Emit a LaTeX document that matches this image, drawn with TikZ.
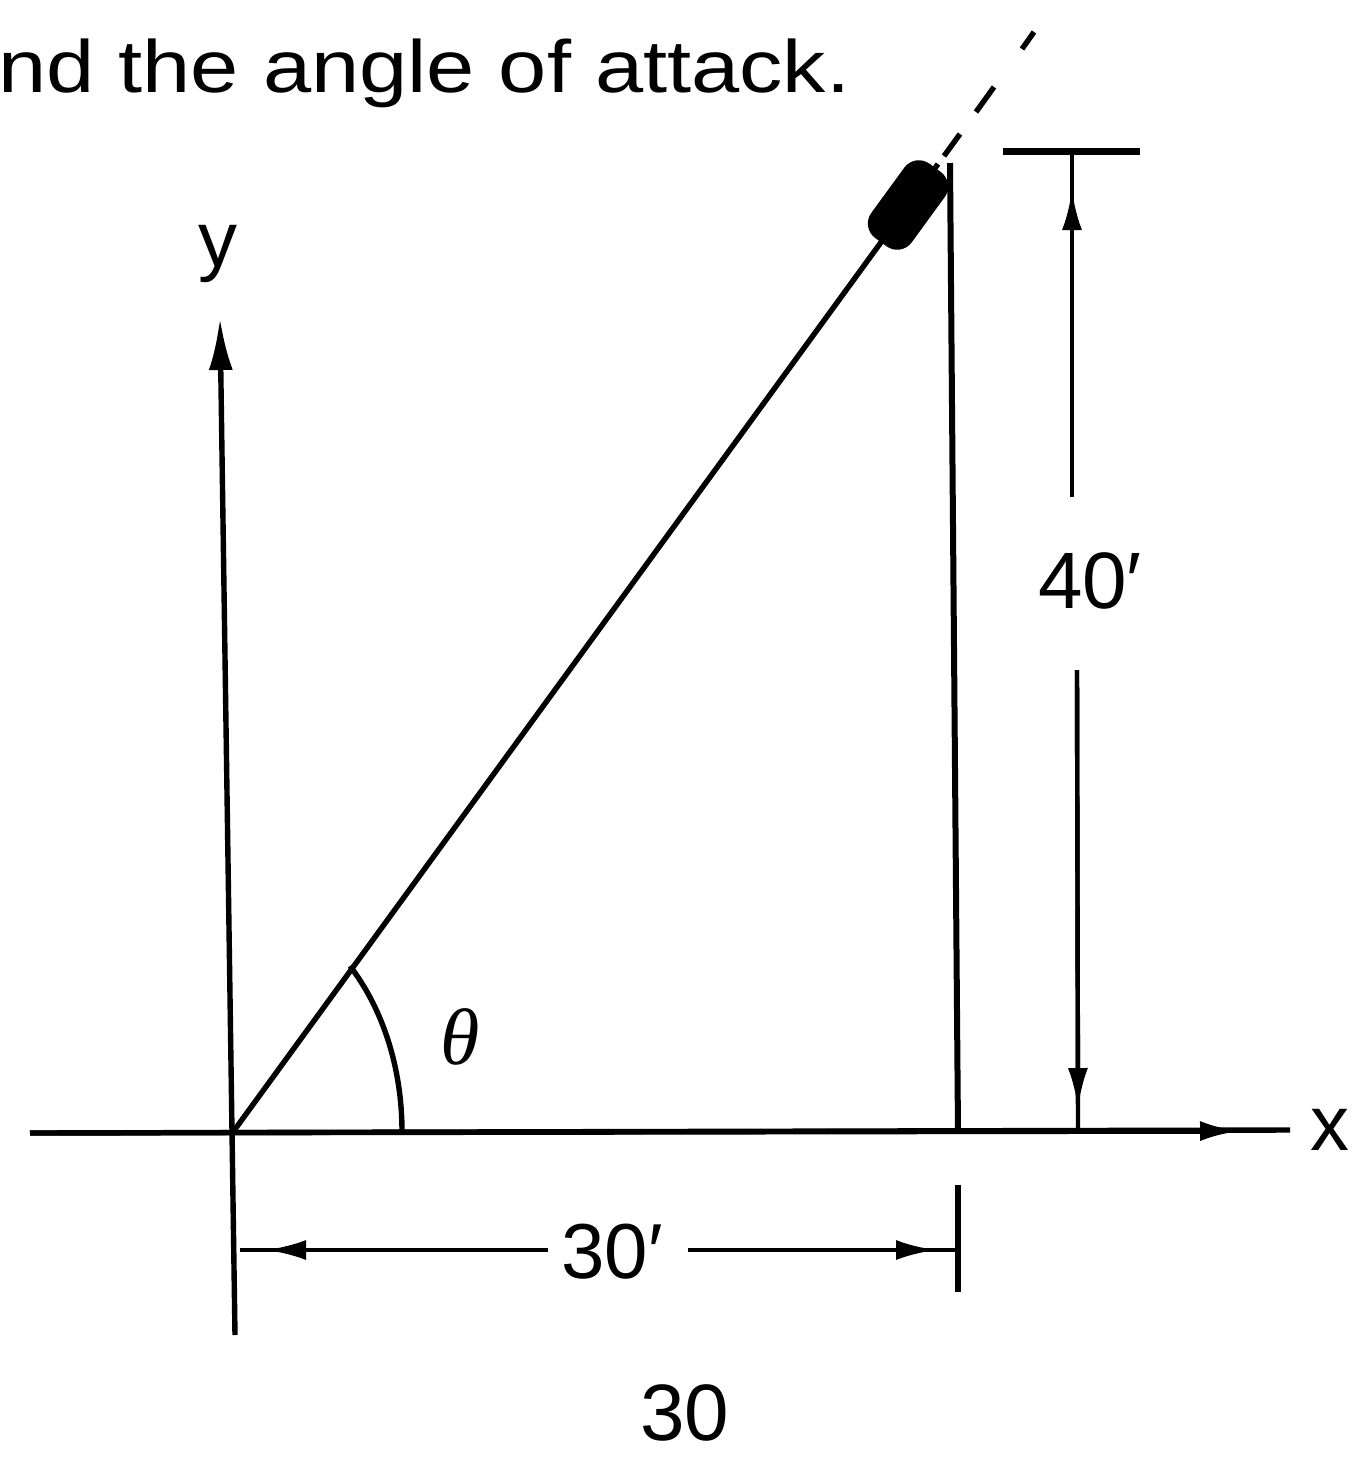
\documentclass[tikz,border=0pt]{standalone}
\usepackage{fontspec}
\setmainfont{Liberation Sans}
\newfontfamily\thetafont{Liberation Serif}
\usetikzlibrary{arrows.meta}
\begin{document}
\begin{tikzpicture}[x=0.5pt,y=-0.5pt,
  ln/.style={line width=2.7pt},
  dimln/.style={line width=2.2pt},
  arr/.style={-{Latex[length=26pt,width=12pt]}},
  sarr/.style={-{Latex[length=20pt,width=10pt]}},
  lbl/.style={inner sep=0pt, font=\fontsize{39}{46}\selectfont}]
\useasboundingbox (0,0) rectangle (1351,1457);
% key points
\coordinate (O) at (233,1132);
\coordinate (xL) at (30,1133);
\coordinate (xA) at (1240,1131);
\coordinate (xR) at (1290,1130);
\coordinate (yT) at (220,318);
\coordinate (yB) at (235,1335);
\coordinate (H) at (938,164);
\coordinate (B) at (908,205);
\coordinate (vT) at (950,163);
\coordinate (vB) at (958,1132);
\coordinate (eT) at (958,1185);
\coordinate (eB) at (958,1292);
% axes
\draw[ln] (xL) -- (xR);
\draw[ln,sarr] (xL) -- (xA);
\draw[ln,arr] (yB) -- (yT);
% hypotenuse and projectile
\draw[ln] (O) -- (H);
\node[fill=black, draw=none, rounded corners=9pt, minimum width=46pt, minimum height=25pt, inner sep=0pt, rotate=53.9] (proj) at (B) {};
\coordinate (d1a) at (944,156); \coordinate (d1b) at (960,134);
\coordinate (d2a) at (976,112); \coordinate (d2b) at (994,87);
\coordinate (d3a) at (1022,49); \coordinate (d3b) at (1034,32);
\draw[ln] (d1a) -- (d1b);
\draw[ln] (d2a) -- (d2b);
\draw[ln] (d3a) -- (d3b);
% vertical side
\draw[line width=3pt] (vT) -- (vB);
\draw[ln] (eT) -- (eB);
% 40' dimension
\coordinate (bL) at (1003,151); \coordinate (bR) at (1140,151);
\draw[line width=3.5pt] (bL) -- (bR);
\coordinate (u1) at (1072,151); \coordinate (uA) at (1072,190); \coordinate (u2) at (1072,497);
\draw[dimln] (u2) -- (u1);
\draw[dimln,sarr] (u2) -- (uA);
\coordinate (l1) at (1077,670); \coordinate (lA) at (1078,1108); \coordinate (l2) at (1078,1132);
\draw[dimln] (l1) -- (l2);
\draw[dimln,sarr] (l1) -- (lA);
\node[lbl, font=\fontsize{40}{48}\selectfont] (t40) at (1090,581) {40′};
% 30' dimension
\coordinate (cL) at (240,1250); \coordinate (cLA) at (266,1250); \coordinate (cM1) at (548,1250);
\coordinate (cM2) at (688,1250); \coordinate (cRA) at (936,1250); \coordinate (cR) at (958,1250);
\draw[dimln] (cM1) -- (cL);
\draw[dimln,sarr] (cM1) -- (cLA);
\draw[dimln] (cM2) -- (cR);
\draw[dimln,sarr] (cM2) -- (cRA);
\node[lbl] (t30) at (612,1252) {30′};
% angle
\coordinate (a1) at (350,966);
\coordinate (a2) at (402,1132);
\draw[ln] (a1) .. controls (382,1008) and (402,1066) .. (a2);
\node[inner sep=0pt, font=\thetafont\itshape\fontsize{40}{46}\selectfont] (th) at (460,1037) {θ};
% axis labels
\node[lbl, anchor=base] (ylab) at (218,266) {y};
\node[lbl, anchor=base west] (xlab) at (1310,1150) {x};
% texts
\node[inner sep=0pt, anchor=base west, font=\fontsize{37}{44}\selectfont] (top) at (-2,92) {\scalebox{1.17}[1]{nd the angle of attack.}};
\node[lbl, font=\fontsize{40}{48}\selectfont] (b30) at (685,1413) {30};
\end{tikzpicture}
\end{document}
